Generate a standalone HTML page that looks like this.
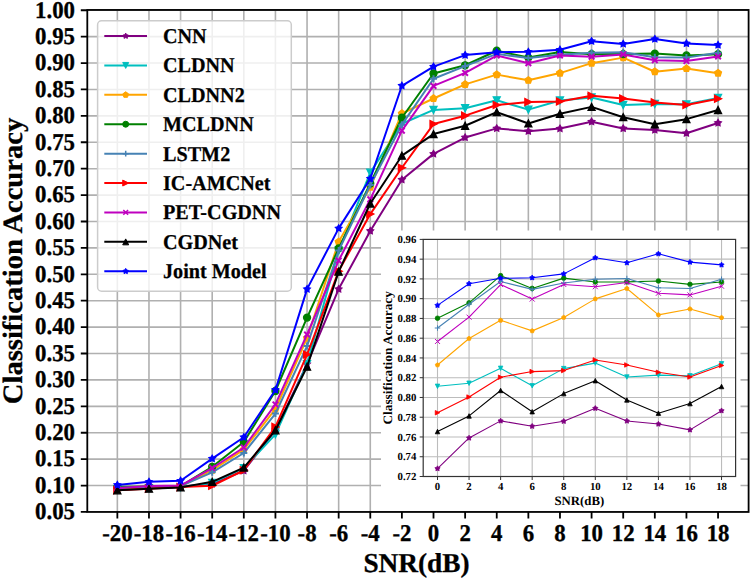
<!DOCTYPE html>
<html><head><meta charset="utf-8"><style>
html,body{margin:0;padding:0;background:#fff;width:751px;height:581px;overflow:hidden}
svg{display:block}
text{font-family:"Liberation Serif",serif;font-weight:bold;fill:#000;text-rendering:geometricPrecision}
.mt{font-size:24px;stroke:#000;stroke-width:0.35px}
.ml{font-size:28px;stroke:#000;stroke-width:0.3px}
.mx{font-size:27.3px;stroke:#000;stroke-width:0.3px}
.lg{font-size:21px;stroke:#000;stroke-width:0.25px}
.it{font-size:10.8px}
.il{font-size:12.8px}
</style></head><body>
<svg width="751" height="581" viewBox="0 0 751 581"><rect width="751" height="581" fill="#fff"/><path d="M117.35 9.95V511.95M148.97 9.95V511.95M180.58 9.95V511.95M212.20 9.95V511.95M243.81 9.95V511.95M275.43 9.95V511.95M307.05 9.95V511.95M338.66 9.95V511.95M370.28 9.95V511.95M401.89 9.95V511.95M433.51 9.95V511.95M465.13 9.95V511.95M496.74 9.95V511.95M528.36 9.95V511.95M559.97 9.95V511.95M591.59 9.95V511.95M623.21 9.95V511.95M654.82 9.95V511.95M686.44 9.95V511.95M718.05 9.95V511.95M87.30 485.54H748.60M87.30 459.13H748.60M87.30 432.73H748.60M87.30 406.33H748.60M87.30 379.92H748.60M87.30 353.51H748.60M87.30 327.11H748.60M87.30 300.71H748.60M87.30 274.30H748.60M87.30 247.89H748.60M87.30 221.49H748.60M87.30 195.08H748.60M87.30 168.68H748.60M87.30 142.27H748.60M87.30 115.87H748.60M87.30 89.46H748.60M87.30 63.06H748.60M87.30 36.65H748.60M87.30 10.25H748.60" stroke="#b0b0b0" stroke-width="1.6" fill="none"/><polyline points="117.35,489.76 148.97,488.18 180.58,486.60 212.20,483.96 243.81,470.75 275.43,430.09 307.05,364.08 338.66,289.09 370.28,231.00 401.89,179.77 433.51,153.89 465.13,137.52 496.74,128.39 528.36,131.24 559.97,128.60 591.59,121.68 623.21,128.44 654.82,130.08 686.44,133.19 718.05,122.95" stroke="#800080" stroke-width="2.0" fill="none" stroke-linejoin="round"/><polygon points="117.35,486.36 118.45,488.25 120.58,488.71 119.13,490.34 119.35,492.52 117.35,491.63 115.35,492.52 115.57,490.34 114.12,488.71 116.25,488.25" fill="#800080" stroke="#800080" stroke-width="1.3" stroke-linejoin="miter"/><polygon points="148.97,484.78 150.07,486.67 152.20,487.13 150.74,488.76 150.96,490.93 148.97,490.05 146.97,490.93 147.19,488.76 145.73,487.13 147.87,486.67" fill="#800080" stroke="#800080" stroke-width="1.3" stroke-linejoin="miter"/><polygon points="180.58,483.20 181.68,485.08 183.82,485.55 182.36,487.17 182.58,489.35 180.58,488.47 178.58,489.35 178.80,487.17 177.35,485.55 179.48,485.08" fill="#800080" stroke="#800080" stroke-width="1.3" stroke-linejoin="miter"/><polygon points="212.20,480.56 213.30,482.44 215.43,482.91 213.98,484.53 214.20,486.71 212.20,485.83 210.20,486.71 210.42,484.53 208.96,482.91 211.10,482.44" fill="#800080" stroke="#800080" stroke-width="1.3" stroke-linejoin="miter"/><polygon points="243.81,467.35 244.91,469.24 247.05,469.70 245.59,471.33 245.81,473.50 243.81,472.62 241.82,473.50 242.04,471.33 240.58,469.70 242.71,469.24" fill="#800080" stroke="#800080" stroke-width="1.3" stroke-linejoin="miter"/><polygon points="275.43,426.69 276.53,428.58 278.66,429.04 277.21,430.67 277.43,432.84 275.43,431.96 273.43,432.84 273.65,430.67 272.20,429.04 274.33,428.58" fill="#800080" stroke="#800080" stroke-width="1.3" stroke-linejoin="miter"/><polygon points="307.05,360.68 308.15,362.56 310.28,363.03 308.82,364.65 309.04,366.83 307.05,365.95 305.05,366.83 305.27,364.65 303.81,363.03 305.95,362.56" fill="#800080" stroke="#800080" stroke-width="1.3" stroke-linejoin="miter"/><polygon points="338.66,285.69 339.76,287.57 341.90,288.04 340.44,289.66 340.66,291.84 338.66,290.96 336.66,291.84 336.88,289.66 335.43,288.04 337.56,287.57" fill="#800080" stroke="#800080" stroke-width="1.3" stroke-linejoin="miter"/><polygon points="370.28,227.60 371.38,229.48 373.51,229.95 372.06,231.57 372.28,233.75 370.28,232.87 368.28,233.75 368.50,231.57 367.04,229.95 369.18,229.48" fill="#800080" stroke="#800080" stroke-width="1.3" stroke-linejoin="miter"/><polygon points="401.89,176.37 402.99,178.26 405.13,178.72 403.67,180.35 403.89,182.52 401.89,181.64 399.90,182.52 400.12,180.35 398.66,178.72 400.79,178.26" fill="#800080" stroke="#800080" stroke-width="1.3" stroke-linejoin="miter"/><polygon points="433.51,150.49 434.61,152.38 436.74,152.84 435.29,154.47 435.51,156.64 433.51,155.76 431.51,156.64 431.73,154.47 430.28,152.84 432.41,152.38" fill="#800080" stroke="#800080" stroke-width="1.3" stroke-linejoin="miter"/><polygon points="465.13,134.12 466.23,136.01 468.36,136.47 466.90,138.10 467.12,140.27 465.13,139.39 463.13,140.27 463.35,138.10 461.89,136.47 464.03,136.01" fill="#800080" stroke="#800080" stroke-width="1.3" stroke-linejoin="miter"/><polygon points="496.74,124.99 497.84,126.87 499.98,127.34 498.52,128.96 498.74,131.14 496.74,130.26 494.74,131.14 494.96,128.96 493.51,127.34 495.64,126.87" fill="#800080" stroke="#800080" stroke-width="1.3" stroke-linejoin="miter"/><polygon points="528.36,127.84 529.46,129.72 531.59,130.19 530.14,131.82 530.36,133.99 528.36,133.11 526.36,133.99 526.58,131.82 525.12,130.19 527.26,129.72" fill="#800080" stroke="#800080" stroke-width="1.3" stroke-linejoin="miter"/><polygon points="559.97,125.20 561.07,127.08 563.21,127.55 561.75,129.18 561.97,131.35 559.97,130.47 557.98,131.35 558.20,129.18 556.74,127.55 558.87,127.08" fill="#800080" stroke="#800080" stroke-width="1.3" stroke-linejoin="miter"/><polygon points="591.59,118.28 592.69,120.17 594.82,120.63 593.37,122.26 593.59,124.43 591.59,123.55 589.59,124.43 589.81,122.26 588.36,120.63 590.49,120.17" fill="#800080" stroke="#800080" stroke-width="1.3" stroke-linejoin="miter"/><polygon points="623.21,125.04 624.31,126.93 626.44,127.39 624.98,129.02 625.20,131.19 623.21,130.31 621.21,131.19 621.43,129.02 619.97,127.39 622.11,126.93" fill="#800080" stroke="#800080" stroke-width="1.3" stroke-linejoin="miter"/><polygon points="654.82,126.68 655.92,128.56 658.06,129.03 656.60,130.65 656.82,132.83 654.82,131.95 652.82,132.83 653.04,130.65 651.59,129.03 653.72,128.56" fill="#800080" stroke="#800080" stroke-width="1.3" stroke-linejoin="miter"/><polygon points="686.44,129.79 687.54,131.68 689.67,132.14 688.22,133.77 688.44,135.94 686.44,135.06 684.44,135.94 684.66,133.77 683.20,132.14 685.34,131.68" fill="#800080" stroke="#800080" stroke-width="1.3" stroke-linejoin="miter"/><polygon points="718.05,119.55 719.15,121.43 721.29,121.90 719.83,123.52 720.05,125.70 718.05,124.82 716.06,125.70 716.28,123.52 714.82,121.90 716.95,121.43" fill="#800080" stroke="#800080" stroke-width="1.3" stroke-linejoin="miter"/><polyline points="117.35,489.24 148.97,488.18 180.58,487.12 212.20,482.90 243.81,468.11 275.43,434.31 307.05,364.08 338.66,250.54 370.28,172.64 401.89,123.79 433.51,109.90 465.13,108.27 496.74,100.29 528.36,109.64 559.97,100.45 591.59,97.49 623.21,104.94 654.82,103.93 686.44,104.30 718.05,97.86" stroke="#00bfbf" stroke-width="2.0" fill="none" stroke-linejoin="round"/><polygon points="113.85,485.74 120.85,485.74 117.35,492.74" fill="#00bfbf" stroke="#00bfbf" stroke-width="1.3" stroke-linejoin="miter"/><polygon points="145.47,484.68 152.47,484.68 148.97,491.68" fill="#00bfbf" stroke="#00bfbf" stroke-width="1.3" stroke-linejoin="miter"/><polygon points="177.08,483.62 184.08,483.62 180.58,490.62" fill="#00bfbf" stroke="#00bfbf" stroke-width="1.3" stroke-linejoin="miter"/><polygon points="208.70,479.40 215.70,479.40 212.20,486.40" fill="#00bfbf" stroke="#00bfbf" stroke-width="1.3" stroke-linejoin="miter"/><polygon points="240.31,464.61 247.31,464.61 243.81,471.61" fill="#00bfbf" stroke="#00bfbf" stroke-width="1.3" stroke-linejoin="miter"/><polygon points="271.93,430.81 278.93,430.81 275.43,437.81" fill="#00bfbf" stroke="#00bfbf" stroke-width="1.3" stroke-linejoin="miter"/><polygon points="303.55,360.58 310.55,360.58 307.05,367.58" fill="#00bfbf" stroke="#00bfbf" stroke-width="1.3" stroke-linejoin="miter"/><polygon points="335.16,247.04 342.16,247.04 338.66,254.04" fill="#00bfbf" stroke="#00bfbf" stroke-width="1.3" stroke-linejoin="miter"/><polygon points="366.78,169.14 373.78,169.14 370.28,176.14" fill="#00bfbf" stroke="#00bfbf" stroke-width="1.3" stroke-linejoin="miter"/><polygon points="398.39,120.29 405.39,120.29 401.89,127.29" fill="#00bfbf" stroke="#00bfbf" stroke-width="1.3" stroke-linejoin="miter"/><polygon points="430.01,106.40 437.01,106.40 433.51,113.40" fill="#00bfbf" stroke="#00bfbf" stroke-width="1.3" stroke-linejoin="miter"/><polygon points="461.63,104.77 468.63,104.77 465.13,111.77" fill="#00bfbf" stroke="#00bfbf" stroke-width="1.3" stroke-linejoin="miter"/><polygon points="493.24,96.79 500.24,96.79 496.74,103.79" fill="#00bfbf" stroke="#00bfbf" stroke-width="1.3" stroke-linejoin="miter"/><polygon points="524.86,106.14 531.86,106.14 528.36,113.14" fill="#00bfbf" stroke="#00bfbf" stroke-width="1.3" stroke-linejoin="miter"/><polygon points="556.47,96.95 563.47,96.95 559.97,103.95" fill="#00bfbf" stroke="#00bfbf" stroke-width="1.3" stroke-linejoin="miter"/><polygon points="588.09,93.99 595.09,93.99 591.59,100.99" fill="#00bfbf" stroke="#00bfbf" stroke-width="1.3" stroke-linejoin="miter"/><polygon points="619.71,101.44 626.71,101.44 623.21,108.44" fill="#00bfbf" stroke="#00bfbf" stroke-width="1.3" stroke-linejoin="miter"/><polygon points="651.32,100.43 658.32,100.43 654.82,107.43" fill="#00bfbf" stroke="#00bfbf" stroke-width="1.3" stroke-linejoin="miter"/><polygon points="682.94,100.80 689.94,100.80 686.44,107.80" fill="#00bfbf" stroke="#00bfbf" stroke-width="1.3" stroke-linejoin="miter"/><polygon points="714.55,94.36 721.55,94.36 718.05,101.36" fill="#00bfbf" stroke="#00bfbf" stroke-width="1.3" stroke-linejoin="miter"/><polyline points="117.35,488.71 148.97,487.12 180.58,486.60 212.20,470.23 243.81,449.63 275.43,408.97 307.05,338.20 338.66,241.82 370.28,187.16 401.89,113.49 433.51,98.50 465.13,84.34 496.74,74.63 528.36,80.28 559.97,73.09 591.59,63.17 623.21,57.62 654.82,71.72 686.44,68.55 718.05,73.20" stroke="#ffa500" stroke-width="2.0" fill="none" stroke-linejoin="round"/><polygon points="117.35,485.11 120.77,487.60 119.47,491.62 115.23,491.62 113.93,487.60" fill="#ffa500" stroke="#ffa500" stroke-width="1.3" stroke-linejoin="miter"/><polygon points="148.97,483.52 152.39,486.01 151.08,490.04 146.85,490.04 145.54,486.01" fill="#ffa500" stroke="#ffa500" stroke-width="1.3" stroke-linejoin="miter"/><polygon points="180.58,483.00 184.01,485.48 182.70,489.51 178.47,489.51 177.16,485.48" fill="#ffa500" stroke="#ffa500" stroke-width="1.3" stroke-linejoin="miter"/><polygon points="212.20,466.63 215.62,469.11 214.31,473.14 210.08,473.14 208.77,469.11" fill="#ffa500" stroke="#ffa500" stroke-width="1.3" stroke-linejoin="miter"/><polygon points="243.81,446.03 247.24,448.52 245.93,452.54 241.70,452.54 240.39,448.52" fill="#ffa500" stroke="#ffa500" stroke-width="1.3" stroke-linejoin="miter"/><polygon points="275.43,405.37 278.85,407.85 277.55,411.88 273.31,411.88 272.01,407.85" fill="#ffa500" stroke="#ffa500" stroke-width="1.3" stroke-linejoin="miter"/><polygon points="307.05,334.60 310.47,337.09 309.16,341.11 304.93,341.11 303.62,337.09" fill="#ffa500" stroke="#ffa500" stroke-width="1.3" stroke-linejoin="miter"/><polygon points="338.66,238.22 342.09,240.71 340.78,244.73 336.55,244.73 335.24,240.71" fill="#ffa500" stroke="#ffa500" stroke-width="1.3" stroke-linejoin="miter"/><polygon points="370.28,183.56 373.70,186.05 372.39,190.08 368.16,190.08 366.85,186.05" fill="#ffa500" stroke="#ffa500" stroke-width="1.3" stroke-linejoin="miter"/><polygon points="401.89,109.89 405.32,112.38 404.01,116.41 399.78,116.41 398.47,112.38" fill="#ffa500" stroke="#ffa500" stroke-width="1.3" stroke-linejoin="miter"/><polygon points="433.51,94.90 436.93,97.38 435.63,101.41 431.39,101.41 430.09,97.38" fill="#ffa500" stroke="#ffa500" stroke-width="1.3" stroke-linejoin="miter"/><polygon points="465.13,80.74 468.55,83.23 467.24,87.25 463.01,87.25 461.70,83.23" fill="#ffa500" stroke="#ffa500" stroke-width="1.3" stroke-linejoin="miter"/><polygon points="496.74,71.03 500.17,73.51 498.86,77.54 494.63,77.54 493.32,73.51" fill="#ffa500" stroke="#ffa500" stroke-width="1.3" stroke-linejoin="miter"/><polygon points="528.36,76.68 531.78,79.16 530.47,83.19 526.24,83.19 524.93,79.16" fill="#ffa500" stroke="#ffa500" stroke-width="1.3" stroke-linejoin="miter"/><polygon points="559.97,69.49 563.40,71.98 562.09,76.01 557.86,76.01 556.55,71.98" fill="#ffa500" stroke="#ffa500" stroke-width="1.3" stroke-linejoin="miter"/><polygon points="591.59,59.57 595.01,62.05 593.71,66.08 589.47,66.08 588.17,62.05" fill="#ffa500" stroke="#ffa500" stroke-width="1.3" stroke-linejoin="miter"/><polygon points="623.21,54.02 626.63,56.51 625.32,60.53 621.09,60.53 619.78,56.51" fill="#ffa500" stroke="#ffa500" stroke-width="1.3" stroke-linejoin="miter"/><polygon points="654.82,68.12 658.25,70.61 656.94,74.63 652.71,74.63 651.40,70.61" fill="#ffa500" stroke="#ffa500" stroke-width="1.3" stroke-linejoin="miter"/><polygon points="686.44,64.95 689.86,67.44 688.55,71.46 684.32,71.46 683.01,67.44" fill="#ffa500" stroke="#ffa500" stroke-width="1.3" stroke-linejoin="miter"/><polygon points="718.05,69.60 721.48,72.09 720.17,76.11 715.94,76.11 714.63,72.09" fill="#ffa500" stroke="#ffa500" stroke-width="1.3" stroke-linejoin="miter"/><polyline points="117.35,487.12 148.97,486.60 180.58,486.07 212.20,466.79 243.81,441.97 275.43,391.01 307.05,317.60 338.66,248.42 370.28,183.47 401.89,117.77 433.51,73.52 465.13,65.28 496.74,50.76 528.36,57.57 559.97,52.08 591.59,54.14 623.21,54.08 654.82,53.61 686.44,55.40 718.05,54.14" stroke="#008000" stroke-width="2.0" fill="none" stroke-linejoin="round"/><circle cx="117.35" cy="487.12" r="3.50" fill="#008000" stroke="#008000" stroke-width="1.3" stroke-linejoin="miter"/><circle cx="148.97" cy="486.60" r="3.50" fill="#008000" stroke="#008000" stroke-width="1.3" stroke-linejoin="miter"/><circle cx="180.58" cy="486.07" r="3.50" fill="#008000" stroke="#008000" stroke-width="1.3" stroke-linejoin="miter"/><circle cx="212.20" cy="466.79" r="3.50" fill="#008000" stroke="#008000" stroke-width="1.3" stroke-linejoin="miter"/><circle cx="243.81" cy="441.97" r="3.50" fill="#008000" stroke="#008000" stroke-width="1.3" stroke-linejoin="miter"/><circle cx="275.43" cy="391.01" r="3.50" fill="#008000" stroke="#008000" stroke-width="1.3" stroke-linejoin="miter"/><circle cx="307.05" cy="317.60" r="3.50" fill="#008000" stroke="#008000" stroke-width="1.3" stroke-linejoin="miter"/><circle cx="338.66" cy="248.42" r="3.50" fill="#008000" stroke="#008000" stroke-width="1.3" stroke-linejoin="miter"/><circle cx="370.28" cy="183.47" r="3.50" fill="#008000" stroke="#008000" stroke-width="1.3" stroke-linejoin="miter"/><circle cx="401.89" cy="117.77" r="3.50" fill="#008000" stroke="#008000" stroke-width="1.3" stroke-linejoin="miter"/><circle cx="433.51" cy="73.52" r="3.50" fill="#008000" stroke="#008000" stroke-width="1.3" stroke-linejoin="miter"/><circle cx="465.13" cy="65.28" r="3.50" fill="#008000" stroke="#008000" stroke-width="1.3" stroke-linejoin="miter"/><circle cx="496.74" cy="50.76" r="3.50" fill="#008000" stroke="#008000" stroke-width="1.3" stroke-linejoin="miter"/><circle cx="528.36" cy="57.57" r="3.50" fill="#008000" stroke="#008000" stroke-width="1.3" stroke-linejoin="miter"/><circle cx="559.97" cy="52.08" r="3.50" fill="#008000" stroke="#008000" stroke-width="1.3" stroke-linejoin="miter"/><circle cx="591.59" cy="54.14" r="3.50" fill="#008000" stroke="#008000" stroke-width="1.3" stroke-linejoin="miter"/><circle cx="623.21" cy="54.08" r="3.50" fill="#008000" stroke="#008000" stroke-width="1.3" stroke-linejoin="miter"/><circle cx="654.82" cy="53.61" r="3.50" fill="#008000" stroke="#008000" stroke-width="1.3" stroke-linejoin="miter"/><circle cx="686.44" cy="55.40" r="3.50" fill="#008000" stroke="#008000" stroke-width="1.3" stroke-linejoin="miter"/><circle cx="718.05" cy="54.14" r="3.50" fill="#008000" stroke="#008000" stroke-width="1.3" stroke-linejoin="miter"/><polyline points="117.35,487.65 148.97,487.12 180.58,486.07 212.20,472.34 243.81,453.01 275.43,413.51 307.05,346.12 338.66,250.54 370.28,185.05 401.89,124.69 433.51,78.74 465.13,66.07 496.74,53.87 528.36,58.10 559.97,54.72 591.59,52.66 623.21,52.29 654.82,57.25 686.44,57.62 718.05,52.66" stroke="#4682b4" stroke-width="2.0" fill="none" stroke-linejoin="round"/><path d="M113.85 487.65H120.85M117.35 484.15V491.15" stroke="#4682b4" stroke-width="2.0" fill="none"/><path d="M145.47 487.12H152.47M148.97 483.62V490.62" stroke="#4682b4" stroke-width="2.0" fill="none"/><path d="M177.08 486.07H184.08M180.58 482.57V489.57" stroke="#4682b4" stroke-width="2.0" fill="none"/><path d="M208.70 472.34H215.70M212.20 468.84V475.84" stroke="#4682b4" stroke-width="2.0" fill="none"/><path d="M240.31 453.01H247.31M243.81 449.51V456.51" stroke="#4682b4" stroke-width="2.0" fill="none"/><path d="M271.93 413.51H278.93M275.43 410.01V417.01" stroke="#4682b4" stroke-width="2.0" fill="none"/><path d="M303.55 346.12H310.55M307.05 342.62V349.62" stroke="#4682b4" stroke-width="2.0" fill="none"/><path d="M335.16 250.54H342.16M338.66 247.04V254.04" stroke="#4682b4" stroke-width="2.0" fill="none"/><path d="M366.78 185.05H373.78M370.28 181.55V188.55" stroke="#4682b4" stroke-width="2.0" fill="none"/><path d="M398.39 124.69H405.39M401.89 121.19V128.19" stroke="#4682b4" stroke-width="2.0" fill="none"/><path d="M430.01 78.74H437.01M433.51 75.24V82.24" stroke="#4682b4" stroke-width="2.0" fill="none"/><path d="M461.63 66.07H468.63M465.13 62.57V69.57" stroke="#4682b4" stroke-width="2.0" fill="none"/><path d="M493.24 53.87H500.24M496.74 50.37V57.37" stroke="#4682b4" stroke-width="2.0" fill="none"/><path d="M524.86 58.10H531.86M528.36 54.60V61.60" stroke="#4682b4" stroke-width="2.0" fill="none"/><path d="M556.47 54.72H563.47M559.97 51.22V58.22" stroke="#4682b4" stroke-width="2.0" fill="none"/><path d="M588.09 52.66H595.09M591.59 49.16V56.16" stroke="#4682b4" stroke-width="2.0" fill="none"/><path d="M619.71 52.29H626.71M623.21 48.79V55.79" stroke="#4682b4" stroke-width="2.0" fill="none"/><path d="M651.32 57.25H658.32M654.82 53.75V60.75" stroke="#4682b4" stroke-width="2.0" fill="none"/><path d="M682.94 57.62H689.94M686.44 54.12V61.12" stroke="#4682b4" stroke-width="2.0" fill="none"/><path d="M714.55 52.66H721.55M718.05 49.16V56.16" stroke="#4682b4" stroke-width="2.0" fill="none"/><polyline points="117.35,490.29 148.97,488.71 180.58,487.12 212.20,485.75 243.81,470.23 275.43,426.92 307.05,354.57 338.66,271.13 370.28,214.10 401.89,167.78 433.51,124.06 465.13,115.66 496.74,105.04 528.36,102.03 559.97,101.51 591.59,95.80 623.21,98.50 654.82,102.40 686.44,104.94 718.05,98.76" stroke="#ff0000" stroke-width="2.0" fill="none" stroke-linejoin="round"/><polygon points="113.85,486.79 113.85,493.79 120.85,490.29" fill="#ff0000" stroke="#ff0000" stroke-width="1.3" stroke-linejoin="miter"/><polygon points="145.47,485.21 145.47,492.21 152.47,488.71" fill="#ff0000" stroke="#ff0000" stroke-width="1.3" stroke-linejoin="miter"/><polygon points="177.08,483.62 177.08,490.62 184.08,487.12" fill="#ff0000" stroke="#ff0000" stroke-width="1.3" stroke-linejoin="miter"/><polygon points="208.70,482.25 208.70,489.25 215.70,485.75" fill="#ff0000" stroke="#ff0000" stroke-width="1.3" stroke-linejoin="miter"/><polygon points="240.31,466.73 240.31,473.73 247.31,470.23" fill="#ff0000" stroke="#ff0000" stroke-width="1.3" stroke-linejoin="miter"/><polygon points="271.93,423.42 271.93,430.42 278.93,426.92" fill="#ff0000" stroke="#ff0000" stroke-width="1.3" stroke-linejoin="miter"/><polygon points="303.55,351.07 303.55,358.07 310.55,354.57" fill="#ff0000" stroke="#ff0000" stroke-width="1.3" stroke-linejoin="miter"/><polygon points="335.16,267.63 335.16,274.63 342.16,271.13" fill="#ff0000" stroke="#ff0000" stroke-width="1.3" stroke-linejoin="miter"/><polygon points="366.78,210.60 366.78,217.60 373.78,214.10" fill="#ff0000" stroke="#ff0000" stroke-width="1.3" stroke-linejoin="miter"/><polygon points="398.39,164.28 398.39,171.28 405.39,167.78" fill="#ff0000" stroke="#ff0000" stroke-width="1.3" stroke-linejoin="miter"/><polygon points="430.01,120.56 430.01,127.56 437.01,124.06" fill="#ff0000" stroke="#ff0000" stroke-width="1.3" stroke-linejoin="miter"/><polygon points="461.63,112.16 461.63,119.16 468.63,115.66" fill="#ff0000" stroke="#ff0000" stroke-width="1.3" stroke-linejoin="miter"/><polygon points="493.24,101.54 493.24,108.54 500.24,105.04" fill="#ff0000" stroke="#ff0000" stroke-width="1.3" stroke-linejoin="miter"/><polygon points="524.86,98.53 524.86,105.53 531.86,102.03" fill="#ff0000" stroke="#ff0000" stroke-width="1.3" stroke-linejoin="miter"/><polygon points="556.47,98.01 556.47,105.01 563.47,101.51" fill="#ff0000" stroke="#ff0000" stroke-width="1.3" stroke-linejoin="miter"/><polygon points="588.09,92.30 588.09,99.30 595.09,95.80" fill="#ff0000" stroke="#ff0000" stroke-width="1.3" stroke-linejoin="miter"/><polygon points="619.71,95.00 619.71,102.00 626.71,98.50" fill="#ff0000" stroke="#ff0000" stroke-width="1.3" stroke-linejoin="miter"/><polygon points="651.32,98.90 651.32,105.90 658.32,102.40" fill="#ff0000" stroke="#ff0000" stroke-width="1.3" stroke-linejoin="miter"/><polygon points="682.94,101.44 682.94,108.44 689.94,104.94" fill="#ff0000" stroke="#ff0000" stroke-width="1.3" stroke-linejoin="miter"/><polygon points="714.55,95.26 714.55,102.26 721.55,98.76" fill="#ff0000" stroke="#ff0000" stroke-width="1.3" stroke-linejoin="miter"/><polyline points="117.35,488.18 148.97,486.07 180.58,485.54 212.20,468.11 243.81,447.52 275.43,404.42 307.05,334.50 338.66,260.57 370.28,199.31 401.89,130.66 433.51,85.93 465.13,72.94 496.74,55.51 528.36,63.27 559.97,55.46 591.59,56.67 623.21,54.40 654.82,60.16 686.44,61.05 718.05,56.41" stroke="#bf00bf" stroke-width="2.0" fill="none" stroke-linejoin="round"/><path d="M114.55 485.38L120.15 490.98M114.55 490.98L120.15 485.38" stroke="#bf00bf" stroke-width="2.0" fill="none"/><path d="M146.17 483.27L151.77 488.87M146.17 488.87L151.77 483.27" stroke="#bf00bf" stroke-width="2.0" fill="none"/><path d="M177.78 482.74L183.38 488.34M177.78 488.34L183.38 482.74" stroke="#bf00bf" stroke-width="2.0" fill="none"/><path d="M209.40 465.31L215.00 470.91M209.40 470.91L215.00 465.31" stroke="#bf00bf" stroke-width="2.0" fill="none"/><path d="M241.01 444.72L246.61 450.32M241.01 450.32L246.61 444.72" stroke="#bf00bf" stroke-width="2.0" fill="none"/><path d="M272.63 401.62L278.23 407.22M272.63 407.22L278.23 401.62" stroke="#bf00bf" stroke-width="2.0" fill="none"/><path d="M304.25 331.70L309.85 337.30M304.25 337.30L309.85 331.70" stroke="#bf00bf" stroke-width="2.0" fill="none"/><path d="M335.86 257.77L341.46 263.37M335.86 263.37L341.46 257.77" stroke="#bf00bf" stroke-width="2.0" fill="none"/><path d="M367.48 196.51L373.08 202.11M367.48 202.11L373.08 196.51" stroke="#bf00bf" stroke-width="2.0" fill="none"/><path d="M399.09 127.86L404.69 133.46M399.09 133.46L404.69 127.86" stroke="#bf00bf" stroke-width="2.0" fill="none"/><path d="M430.71 83.13L436.31 88.73M430.71 88.73L436.31 83.13" stroke="#bf00bf" stroke-width="2.0" fill="none"/><path d="M462.33 70.14L467.93 75.74M462.33 75.74L467.93 70.14" stroke="#bf00bf" stroke-width="2.0" fill="none"/><path d="M493.94 52.71L499.54 58.31M493.94 58.31L499.54 52.71" stroke="#bf00bf" stroke-width="2.0" fill="none"/><path d="M525.56 60.47L531.16 66.07M525.56 66.07L531.16 60.47" stroke="#bf00bf" stroke-width="2.0" fill="none"/><path d="M557.17 52.66L562.77 58.26M557.17 58.26L562.77 52.66" stroke="#bf00bf" stroke-width="2.0" fill="none"/><path d="M588.79 53.87L594.39 59.47M588.79 59.47L594.39 53.87" stroke="#bf00bf" stroke-width="2.0" fill="none"/><path d="M620.41 51.60L626.01 57.20M620.41 57.20L626.01 51.60" stroke="#bf00bf" stroke-width="2.0" fill="none"/><path d="M652.02 57.36L657.62 62.96M652.02 62.96L657.62 57.36" stroke="#bf00bf" stroke-width="2.0" fill="none"/><path d="M683.64 58.25L689.24 63.85M683.64 63.85L689.24 58.25" stroke="#bf00bf" stroke-width="2.0" fill="none"/><path d="M715.25 53.61L720.85 59.21M715.25 59.21L720.85 53.61" stroke="#bf00bf" stroke-width="2.0" fill="none"/><polyline points="117.35,490.29 148.97,488.71 180.58,487.39 212.20,481.84 243.81,467.58 275.43,430.30 307.05,366.72 338.66,271.66 370.28,203.53 401.89,155.69 433.51,134.09 465.13,125.75 496.74,112.12 528.36,123.47 559.97,113.81 591.59,106.89 623.21,117.19 654.82,124.27 686.44,119.14 718.05,110.01" stroke="#000000" stroke-width="2.0" fill="none" stroke-linejoin="round"/><polygon points="113.85,493.79 120.85,493.79 117.35,486.79" fill="#000000" stroke="#000000" stroke-width="1.3" stroke-linejoin="miter"/><polygon points="145.47,492.21 152.47,492.21 148.97,485.21" fill="#000000" stroke="#000000" stroke-width="1.3" stroke-linejoin="miter"/><polygon points="177.08,490.89 184.08,490.89 180.58,483.89" fill="#000000" stroke="#000000" stroke-width="1.3" stroke-linejoin="miter"/><polygon points="208.70,485.34 215.70,485.34 212.20,478.34" fill="#000000" stroke="#000000" stroke-width="1.3" stroke-linejoin="miter"/><polygon points="240.31,471.08 247.31,471.08 243.81,464.08" fill="#000000" stroke="#000000" stroke-width="1.3" stroke-linejoin="miter"/><polygon points="271.93,433.80 278.93,433.80 275.43,426.80" fill="#000000" stroke="#000000" stroke-width="1.3" stroke-linejoin="miter"/><polygon points="303.55,370.22 310.55,370.22 307.05,363.22" fill="#000000" stroke="#000000" stroke-width="1.3" stroke-linejoin="miter"/><polygon points="335.16,275.16 342.16,275.16 338.66,268.16" fill="#000000" stroke="#000000" stroke-width="1.3" stroke-linejoin="miter"/><polygon points="366.78,207.03 373.78,207.03 370.28,200.03" fill="#000000" stroke="#000000" stroke-width="1.3" stroke-linejoin="miter"/><polygon points="398.39,159.19 405.39,159.19 401.89,152.19" fill="#000000" stroke="#000000" stroke-width="1.3" stroke-linejoin="miter"/><polygon points="430.01,137.59 437.01,137.59 433.51,130.59" fill="#000000" stroke="#000000" stroke-width="1.3" stroke-linejoin="miter"/><polygon points="461.63,129.25 468.63,129.25 465.13,122.25" fill="#000000" stroke="#000000" stroke-width="1.3" stroke-linejoin="miter"/><polygon points="493.24,115.62 500.24,115.62 496.74,108.62" fill="#000000" stroke="#000000" stroke-width="1.3" stroke-linejoin="miter"/><polygon points="524.86,126.97 531.86,126.97 528.36,119.97" fill="#000000" stroke="#000000" stroke-width="1.3" stroke-linejoin="miter"/><polygon points="556.47,117.31 563.47,117.31 559.97,110.31" fill="#000000" stroke="#000000" stroke-width="1.3" stroke-linejoin="miter"/><polygon points="588.09,110.39 595.09,110.39 591.59,103.39" fill="#000000" stroke="#000000" stroke-width="1.3" stroke-linejoin="miter"/><polygon points="619.71,120.69 626.71,120.69 623.21,113.69" fill="#000000" stroke="#000000" stroke-width="1.3" stroke-linejoin="miter"/><polygon points="651.32,127.77 658.32,127.77 654.82,120.77" fill="#000000" stroke="#000000" stroke-width="1.3" stroke-linejoin="miter"/><polygon points="682.94,122.64 689.94,122.64 686.44,115.64" fill="#000000" stroke="#000000" stroke-width="1.3" stroke-linejoin="miter"/><polygon points="714.55,113.51 721.55,113.51 718.05,106.51" fill="#000000" stroke="#000000" stroke-width="1.3" stroke-linejoin="miter"/><polyline points="117.35,485.01 148.97,481.84 180.58,480.79 212.20,458.61 243.81,437.22 275.43,389.95 307.05,289.09 338.66,228.36 370.28,178.71 401.89,85.77 433.51,66.65 465.13,55.09 496.74,52.18 528.36,51.86 559.97,49.80 591.59,41.20 623.21,43.89 654.82,39.08 686.44,43.52 718.05,45.00" stroke="#0000ff" stroke-width="2.0" fill="none" stroke-linejoin="round"/><polygon points="117.35,481.61 118.45,483.50 120.58,483.96 119.13,485.59 119.35,487.76 117.35,486.88 115.35,487.76 115.57,485.59 114.12,483.96 116.25,483.50" fill="#0000ff" stroke="#0000ff" stroke-width="1.3" stroke-linejoin="miter"/><polygon points="148.97,478.44 150.07,480.33 152.20,480.79 150.74,482.42 150.96,484.59 148.97,483.71 146.97,484.59 147.19,482.42 145.73,480.79 147.87,480.33" fill="#0000ff" stroke="#0000ff" stroke-width="1.3" stroke-linejoin="miter"/><polygon points="180.58,477.39 181.68,479.27 183.82,479.74 182.36,481.36 182.58,483.54 180.58,482.66 178.58,483.54 178.80,481.36 177.35,479.74 179.48,479.27" fill="#0000ff" stroke="#0000ff" stroke-width="1.3" stroke-linejoin="miter"/><polygon points="212.20,455.21 213.30,457.09 215.43,457.56 213.98,459.18 214.20,461.36 212.20,460.48 210.20,461.36 210.42,459.18 208.96,457.56 211.10,457.09" fill="#0000ff" stroke="#0000ff" stroke-width="1.3" stroke-linejoin="miter"/><polygon points="243.81,433.82 244.91,435.71 247.05,436.17 245.59,437.80 245.81,439.97 243.81,439.09 241.82,439.97 242.04,437.80 240.58,436.17 242.71,435.71" fill="#0000ff" stroke="#0000ff" stroke-width="1.3" stroke-linejoin="miter"/><polygon points="275.43,386.55 276.53,388.44 278.66,388.90 277.21,390.53 277.43,392.70 275.43,391.82 273.43,392.70 273.65,390.53 272.20,388.90 274.33,388.44" fill="#0000ff" stroke="#0000ff" stroke-width="1.3" stroke-linejoin="miter"/><polygon points="307.05,285.69 308.15,287.57 310.28,288.04 308.82,289.66 309.04,291.84 307.05,290.96 305.05,291.84 305.27,289.66 303.81,288.04 305.95,287.57" fill="#0000ff" stroke="#0000ff" stroke-width="1.3" stroke-linejoin="miter"/><polygon points="338.66,224.96 339.76,226.84 341.90,227.30 340.44,228.93 340.66,231.11 338.66,230.23 336.66,231.11 336.88,228.93 335.43,227.30 337.56,226.84" fill="#0000ff" stroke="#0000ff" stroke-width="1.3" stroke-linejoin="miter"/><polygon points="370.28,175.31 371.38,177.20 373.51,177.66 372.06,179.29 372.28,181.46 370.28,180.58 368.28,181.46 368.50,179.29 367.04,177.66 369.18,177.20" fill="#0000ff" stroke="#0000ff" stroke-width="1.3" stroke-linejoin="miter"/><polygon points="401.89,82.37 402.99,84.26 405.13,84.72 403.67,86.35 403.89,88.52 401.89,87.64 399.90,88.52 400.12,86.35 398.66,84.72 400.79,84.26" fill="#0000ff" stroke="#0000ff" stroke-width="1.3" stroke-linejoin="miter"/><polygon points="433.51,63.25 434.61,65.14 436.74,65.60 435.29,67.23 435.51,69.40 433.51,68.52 431.51,69.40 431.73,67.23 430.28,65.60 432.41,65.14" fill="#0000ff" stroke="#0000ff" stroke-width="1.3" stroke-linejoin="miter"/><polygon points="465.13,51.69 466.23,53.57 468.36,54.04 466.90,55.66 467.12,57.84 465.13,56.96 463.13,57.84 463.35,55.66 461.89,54.04 464.03,53.57" fill="#0000ff" stroke="#0000ff" stroke-width="1.3" stroke-linejoin="miter"/><polygon points="496.74,48.78 497.84,50.67 499.98,51.13 498.52,52.76 498.74,54.93 496.74,54.05 494.74,54.93 494.96,52.76 493.51,51.13 495.64,50.67" fill="#0000ff" stroke="#0000ff" stroke-width="1.3" stroke-linejoin="miter"/><polygon points="528.36,48.46 529.46,50.35 531.59,50.81 530.14,52.44 530.36,54.61 528.36,53.73 526.36,54.61 526.58,52.44 525.12,50.81 527.26,50.35" fill="#0000ff" stroke="#0000ff" stroke-width="1.3" stroke-linejoin="miter"/><polygon points="559.97,46.40 561.07,48.29 563.21,48.75 561.75,50.38 561.97,52.56 559.97,51.67 557.98,52.56 558.20,50.38 556.74,48.75 558.87,48.29" fill="#0000ff" stroke="#0000ff" stroke-width="1.3" stroke-linejoin="miter"/><polygon points="591.59,37.80 592.69,39.68 594.82,40.15 593.37,41.77 593.59,43.95 591.59,43.07 589.59,43.95 589.81,41.77 588.36,40.15 590.49,39.68" fill="#0000ff" stroke="#0000ff" stroke-width="1.3" stroke-linejoin="miter"/><polygon points="623.21,40.49 624.31,42.38 626.44,42.84 624.98,44.47 625.20,46.64 623.21,45.76 621.21,46.64 621.43,44.47 619.97,42.84 622.11,42.38" fill="#0000ff" stroke="#0000ff" stroke-width="1.3" stroke-linejoin="miter"/><polygon points="654.82,35.68 655.92,37.57 658.06,38.03 656.60,39.66 656.82,41.83 654.82,40.95 652.82,41.83 653.04,39.66 651.59,38.03 653.72,37.57" fill="#0000ff" stroke="#0000ff" stroke-width="1.3" stroke-linejoin="miter"/><polygon points="686.44,40.12 687.54,42.01 689.67,42.47 688.22,44.10 688.44,46.27 686.44,45.39 684.44,46.27 684.66,44.10 683.20,42.47 685.34,42.01" fill="#0000ff" stroke="#0000ff" stroke-width="1.3" stroke-linejoin="miter"/><polygon points="718.05,41.60 719.15,43.49 721.29,43.95 719.83,45.58 720.05,47.75 718.05,46.87 716.06,47.75 716.28,45.58 714.82,43.95 716.95,43.49" fill="#0000ff" stroke="#0000ff" stroke-width="1.3" stroke-linejoin="miter"/><rect x="97.6" y="20.8" width="193.70000000000002" height="270.4" rx="4" ry="4" fill="#fff" fill-opacity="0.8" stroke="#cccccc" stroke-width="1.5"/><path d="M104.3 36.00H147" stroke="#800080" stroke-width="2" fill="none"/><polygon points="125.70,33.11 126.63,34.71 128.45,35.11 127.21,36.49 127.40,38.34 125.70,37.59 124.00,38.34 124.19,36.49 122.95,35.11 124.77,34.71" fill="#800080" stroke="#800080" stroke-width="1.0" stroke-linejoin="miter"/><text transform="translate(163,43.00) scale(0.96,1)" class="lg">CNN</text><path d="M104.3 65.41H147" stroke="#00bfbf" stroke-width="2" fill="none"/><polygon points="122.73,62.43 128.68,62.43 125.70,68.38" fill="#00bfbf" stroke="#00bfbf" stroke-width="1.0" stroke-linejoin="miter"/><text transform="translate(163,72.41) scale(0.96,1)" class="lg">CLDNN</text><path d="M104.3 94.82H147" stroke="#ffa500" stroke-width="2" fill="none"/><polygon points="125.70,91.76 128.61,93.87 127.50,97.30 123.90,97.30 122.79,93.87" fill="#ffa500" stroke="#ffa500" stroke-width="1.0" stroke-linejoin="miter"/><text transform="translate(163,101.82) scale(0.96,1)" class="lg">CLDNN2</text><path d="M104.3 124.23H147" stroke="#008000" stroke-width="2" fill="none"/><circle cx="125.70" cy="124.23" r="2.98" fill="#008000" stroke="#008000" stroke-width="1.0" stroke-linejoin="miter"/><text transform="translate(163,131.23) scale(0.96,1)" class="lg">MCLDNN</text><path d="M104.3 153.64H147" stroke="#4682b4" stroke-width="2" fill="none"/><path d="M122.73 153.64H128.68M125.70 150.66V156.61" stroke="#4682b4" stroke-width="1.5" fill="none"/><text transform="translate(163,160.64) scale(0.96,1)" class="lg">LSTM2</text><path d="M104.3 183.05H147" stroke="#ff0000" stroke-width="2" fill="none"/><polygon points="122.73,180.08 122.73,186.03 128.68,183.05" fill="#ff0000" stroke="#ff0000" stroke-width="1.0" stroke-linejoin="miter"/><text transform="translate(163,190.05) scale(0.96,1)" class="lg">IC-AMCNet</text><path d="M104.3 212.46H147" stroke="#bf00bf" stroke-width="2" fill="none"/><path d="M123.32 210.08L128.08 214.84M123.32 214.84L128.08 210.08" stroke="#bf00bf" stroke-width="1.5" fill="none"/><text transform="translate(163,219.46) scale(0.96,1)" class="lg">PET-CGDNN</text><path d="M104.3 241.87H147" stroke="#000000" stroke-width="2" fill="none"/><polygon points="122.73,244.84 128.68,244.84 125.70,238.90" fill="#000000" stroke="#000000" stroke-width="1.0" stroke-linejoin="miter"/><text transform="translate(163,248.87) scale(0.96,1)" class="lg">CGDNet</text><path d="M104.3 271.28H147" stroke="#0000ff" stroke-width="2" fill="none"/><polygon points="125.70,268.39 126.63,269.99 128.45,270.39 127.21,271.77 127.40,273.62 125.70,272.87 124.00,273.62 124.19,271.77 122.95,270.39 124.77,269.99" fill="#0000ff" stroke="#0000ff" stroke-width="1.0" stroke-linejoin="miter"/><text transform="translate(163,278.28) scale(0.96,1)" class="lg">Joint Model</text><rect x="381" y="230.5" width="359.5" height="281.5" fill="#fff"/><path d="M437.50 239.40V476.50M469.06 239.40V476.50M500.62 239.40V476.50M532.18 239.40V476.50M563.74 239.40V476.50M595.30 239.40V476.50M626.86 239.40V476.50M658.42 239.40V476.50M689.98 239.40V476.50M721.54 239.40V476.50M423.20 456.74H735.60M423.20 436.98H735.60M423.20 417.22H735.60M423.20 397.46H735.60M423.20 377.71H735.60M423.20 357.95H735.60M423.20 338.19H735.60M423.20 318.43H735.60M423.20 298.67H735.60M423.20 278.92H735.60M423.20 259.16H735.60" stroke="#bcbcbc" stroke-width="1.1" fill="none"/><polyline points="437.50,468.59 469.06,437.97 500.62,420.88 532.18,426.21 563.74,421.27 595.30,408.33 626.86,420.98 658.42,424.04 689.98,429.87 721.54,410.70" stroke="#800080" stroke-width="1.1" fill="none" stroke-linejoin="round"/><polygon points="437.50,465.84 438.39,467.37 440.12,467.74 438.94,469.06 439.12,470.82 437.50,470.11 435.88,470.82 436.06,469.06 434.88,467.74 436.61,467.37" fill="#800080" stroke="#800080" stroke-width="0.8" stroke-linejoin="miter"/><polygon points="469.06,435.22 469.95,436.74 471.68,437.12 470.50,438.44 470.68,440.19 469.06,439.48 467.44,440.19 467.62,438.44 466.44,437.12 468.17,436.74" fill="#800080" stroke="#800080" stroke-width="0.8" stroke-linejoin="miter"/><polygon points="500.62,418.13 501.51,419.65 503.24,420.03 502.06,421.34 502.24,423.10 500.62,422.39 499.00,423.10 499.18,421.34 498.00,420.03 499.73,419.65" fill="#800080" stroke="#800080" stroke-width="0.8" stroke-linejoin="miter"/><polygon points="532.18,423.46 533.07,424.99 534.80,425.36 533.62,426.68 533.80,428.44 532.18,427.72 530.56,428.44 530.74,426.68 529.56,425.36 531.29,424.99" fill="#800080" stroke="#800080" stroke-width="0.8" stroke-linejoin="miter"/><polygon points="563.74,418.52 564.63,420.05 566.36,420.42 565.18,421.74 565.36,423.50 563.74,422.78 562.12,423.50 562.30,421.74 561.12,420.42 562.85,420.05" fill="#800080" stroke="#800080" stroke-width="0.8" stroke-linejoin="miter"/><polygon points="595.30,405.58 596.19,407.11 597.92,407.48 596.74,408.80 596.92,410.56 595.30,409.84 593.68,410.56 593.86,408.80 592.68,407.48 594.41,407.11" fill="#800080" stroke="#800080" stroke-width="0.8" stroke-linejoin="miter"/><polygon points="626.86,418.23 627.75,419.75 629.48,420.13 628.30,421.44 628.48,423.20 626.86,422.49 625.24,423.20 625.42,421.44 624.24,420.13 625.97,419.75" fill="#800080" stroke="#800080" stroke-width="0.8" stroke-linejoin="miter"/><polygon points="658.42,421.29 659.31,422.81 661.04,423.19 659.86,424.51 660.04,426.26 658.42,425.55 656.80,426.26 656.98,424.51 655.80,423.19 657.53,422.81" fill="#800080" stroke="#800080" stroke-width="0.8" stroke-linejoin="miter"/><polygon points="689.98,427.12 690.87,428.64 692.60,429.02 691.42,430.33 691.60,432.09 689.98,431.38 688.36,432.09 688.54,430.33 687.36,429.02 689.09,428.64" fill="#800080" stroke="#800080" stroke-width="0.8" stroke-linejoin="miter"/><polygon points="721.54,407.95 722.43,409.48 724.16,409.85 722.98,411.17 723.16,412.93 721.54,412.21 719.92,412.93 720.10,411.17 718.92,409.85 720.65,409.48" fill="#800080" stroke="#800080" stroke-width="0.8" stroke-linejoin="miter"/><polyline points="437.50,386.30 469.06,383.24 500.62,368.32 532.18,385.81 563.74,368.62 595.30,363.09 626.86,377.01 658.42,375.14 689.98,375.83 721.54,363.78" stroke="#00bfbf" stroke-width="1.1" fill="none" stroke-linejoin="round"/><polygon points="435.25,384.05 439.75,384.05 437.50,388.55" fill="#00bfbf" stroke="#00bfbf" stroke-width="0.8" stroke-linejoin="miter"/><polygon points="466.81,380.99 471.31,380.99 469.06,385.49" fill="#00bfbf" stroke="#00bfbf" stroke-width="0.8" stroke-linejoin="miter"/><polygon points="498.37,366.07 502.87,366.07 500.62,370.57" fill="#00bfbf" stroke="#00bfbf" stroke-width="0.8" stroke-linejoin="miter"/><polygon points="529.93,383.56 534.43,383.56 532.18,388.06" fill="#00bfbf" stroke="#00bfbf" stroke-width="0.8" stroke-linejoin="miter"/><polygon points="561.49,366.37 565.99,366.37 563.74,370.87" fill="#00bfbf" stroke="#00bfbf" stroke-width="0.8" stroke-linejoin="miter"/><polygon points="593.05,360.84 597.55,360.84 595.30,365.34" fill="#00bfbf" stroke="#00bfbf" stroke-width="0.8" stroke-linejoin="miter"/><polygon points="624.61,374.76 629.11,374.76 626.86,379.26" fill="#00bfbf" stroke="#00bfbf" stroke-width="0.8" stroke-linejoin="miter"/><polygon points="656.17,372.89 660.67,372.89 658.42,377.39" fill="#00bfbf" stroke="#00bfbf" stroke-width="0.8" stroke-linejoin="miter"/><polygon points="687.73,373.58 692.23,373.58 689.98,378.08" fill="#00bfbf" stroke="#00bfbf" stroke-width="0.8" stroke-linejoin="miter"/><polygon points="719.29,361.53 723.79,361.53 721.54,366.03" fill="#00bfbf" stroke="#00bfbf" stroke-width="0.8" stroke-linejoin="miter"/><polyline points="437.50,364.96 469.06,338.49 500.62,320.31 532.18,330.88 563.74,317.44 595.30,298.87 626.86,288.50 658.42,314.88 689.98,308.95 721.54,317.64" stroke="#ffa500" stroke-width="1.1" fill="none" stroke-linejoin="round"/><polygon points="437.50,362.66 439.69,364.25 438.85,366.82 436.15,366.82 435.31,364.25" fill="#ffa500" stroke="#ffa500" stroke-width="0.8" stroke-linejoin="miter"/><polygon points="469.06,336.19 471.25,337.78 470.41,340.35 467.71,340.35 466.87,337.78" fill="#ffa500" stroke="#ffa500" stroke-width="0.8" stroke-linejoin="miter"/><polygon points="500.62,318.01 502.81,319.60 501.97,322.17 499.27,322.17 498.43,319.60" fill="#ffa500" stroke="#ffa500" stroke-width="0.8" stroke-linejoin="miter"/><polygon points="532.18,328.58 534.37,330.17 533.53,332.74 530.83,332.74 529.99,330.17" fill="#ffa500" stroke="#ffa500" stroke-width="0.8" stroke-linejoin="miter"/><polygon points="563.74,315.14 565.93,316.73 565.09,319.30 562.39,319.30 561.55,316.73" fill="#ffa500" stroke="#ffa500" stroke-width="0.8" stroke-linejoin="miter"/><polygon points="595.30,296.57 597.49,298.16 596.65,300.73 593.95,300.73 593.11,298.16" fill="#ffa500" stroke="#ffa500" stroke-width="0.8" stroke-linejoin="miter"/><polygon points="626.86,286.20 629.05,287.79 628.21,290.36 625.51,290.36 624.67,287.79" fill="#ffa500" stroke="#ffa500" stroke-width="0.8" stroke-linejoin="miter"/><polygon points="658.42,312.58 660.61,314.16 659.77,316.74 657.07,316.74 656.23,314.16" fill="#ffa500" stroke="#ffa500" stroke-width="0.8" stroke-linejoin="miter"/><polygon points="689.98,306.65 692.17,308.24 691.33,310.81 688.63,310.81 687.79,308.24" fill="#ffa500" stroke="#ffa500" stroke-width="0.8" stroke-linejoin="miter"/><polygon points="721.54,315.34 723.73,316.93 722.89,319.50 720.19,319.50 719.35,316.93" fill="#ffa500" stroke="#ffa500" stroke-width="0.8" stroke-linejoin="miter"/><polyline points="437.50,318.23 469.06,302.82 500.62,275.66 532.18,288.40 563.74,278.13 595.30,281.98 626.86,281.88 658.42,280.99 689.98,284.35 721.54,281.98" stroke="#008000" stroke-width="1.1" fill="none" stroke-linejoin="round"/><circle cx="437.50" cy="318.23" r="2.30" fill="#008000" stroke="#008000" stroke-width="0.8" stroke-linejoin="miter"/><circle cx="469.06" cy="302.82" r="2.30" fill="#008000" stroke="#008000" stroke-width="0.8" stroke-linejoin="miter"/><circle cx="500.62" cy="275.66" r="2.30" fill="#008000" stroke="#008000" stroke-width="0.8" stroke-linejoin="miter"/><circle cx="532.18" cy="288.40" r="2.30" fill="#008000" stroke="#008000" stroke-width="0.8" stroke-linejoin="miter"/><circle cx="563.74" cy="278.13" r="2.30" fill="#008000" stroke="#008000" stroke-width="0.8" stroke-linejoin="miter"/><circle cx="595.30" cy="281.98" r="2.30" fill="#008000" stroke="#008000" stroke-width="0.8" stroke-linejoin="miter"/><circle cx="626.86" cy="281.88" r="2.30" fill="#008000" stroke="#008000" stroke-width="0.8" stroke-linejoin="miter"/><circle cx="658.42" cy="280.99" r="2.30" fill="#008000" stroke="#008000" stroke-width="0.8" stroke-linejoin="miter"/><circle cx="689.98" cy="284.35" r="2.30" fill="#008000" stroke="#008000" stroke-width="0.8" stroke-linejoin="miter"/><circle cx="721.54" cy="281.98" r="2.30" fill="#008000" stroke="#008000" stroke-width="0.8" stroke-linejoin="miter"/><polyline points="437.50,328.01 469.06,304.31 500.62,281.48 532.18,289.39 563.74,283.07 595.30,279.21 626.86,278.52 658.42,287.81 689.98,288.50 721.54,279.21" stroke="#4682b4" stroke-width="1.1" fill="none" stroke-linejoin="round"/><path d="M434.75 328.01H440.25M437.50 325.26V330.76" stroke="#4682b4" stroke-width="1.0" fill="none"/><path d="M466.31 304.31H471.81M469.06 301.56V307.06" stroke="#4682b4" stroke-width="1.0" fill="none"/><path d="M497.87 281.48H503.37M500.62 278.73V284.23" stroke="#4682b4" stroke-width="1.0" fill="none"/><path d="M529.43 289.39H534.93M532.18 286.64V292.14" stroke="#4682b4" stroke-width="1.0" fill="none"/><path d="M560.99 283.07H566.49M563.74 280.32V285.82" stroke="#4682b4" stroke-width="1.0" fill="none"/><path d="M592.55 279.21H598.05M595.30 276.46V281.96" stroke="#4682b4" stroke-width="1.0" fill="none"/><path d="M624.11 278.52H629.61M626.86 275.77V281.27" stroke="#4682b4" stroke-width="1.0" fill="none"/><path d="M655.67 287.81H661.17M658.42 285.06V290.56" stroke="#4682b4" stroke-width="1.0" fill="none"/><path d="M687.23 288.50H692.73M689.98 285.75V291.25" stroke="#4682b4" stroke-width="1.0" fill="none"/><path d="M718.79 279.21H724.29M721.54 276.46V281.96" stroke="#4682b4" stroke-width="1.0" fill="none"/><polyline points="437.50,412.78 469.06,397.07 500.62,377.21 532.18,371.58 563.74,370.59 595.30,359.92 626.86,364.96 658.42,372.27 689.98,377.01 721.54,365.46" stroke="#ff0000" stroke-width="1.1" fill="none" stroke-linejoin="round"/><polygon points="435.25,410.53 435.25,415.03 439.75,412.78" fill="#ff0000" stroke="#ff0000" stroke-width="0.8" stroke-linejoin="miter"/><polygon points="466.81,394.82 466.81,399.32 471.31,397.07" fill="#ff0000" stroke="#ff0000" stroke-width="0.8" stroke-linejoin="miter"/><polygon points="498.37,374.96 498.37,379.46 502.87,377.21" fill="#ff0000" stroke="#ff0000" stroke-width="0.8" stroke-linejoin="miter"/><polygon points="529.93,369.33 529.93,373.83 534.43,371.58" fill="#ff0000" stroke="#ff0000" stroke-width="0.8" stroke-linejoin="miter"/><polygon points="561.49,368.34 561.49,372.84 565.99,370.59" fill="#ff0000" stroke="#ff0000" stroke-width="0.8" stroke-linejoin="miter"/><polygon points="593.05,357.67 593.05,362.17 597.55,359.92" fill="#ff0000" stroke="#ff0000" stroke-width="0.8" stroke-linejoin="miter"/><polygon points="624.61,362.71 624.61,367.21 629.11,364.96" fill="#ff0000" stroke="#ff0000" stroke-width="0.8" stroke-linejoin="miter"/><polygon points="656.17,370.02 656.17,374.52 660.67,372.27" fill="#ff0000" stroke="#ff0000" stroke-width="0.8" stroke-linejoin="miter"/><polygon points="687.73,374.76 687.73,379.26 692.23,377.01" fill="#ff0000" stroke="#ff0000" stroke-width="0.8" stroke-linejoin="miter"/><polygon points="719.29,363.21 719.29,367.71 723.79,365.46" fill="#ff0000" stroke="#ff0000" stroke-width="0.8" stroke-linejoin="miter"/><polyline points="437.50,341.45 469.06,317.15 500.62,284.55 532.18,299.07 563.74,284.45 595.30,286.72 626.86,282.47 658.42,293.24 689.98,294.92 721.54,286.23" stroke="#bf00bf" stroke-width="1.1" fill="none" stroke-linejoin="round"/><path d="M435.00 338.95L440.00 343.95M435.00 343.95L440.00 338.95" stroke="#bf00bf" stroke-width="1.0" fill="none"/><path d="M466.56 314.65L471.56 319.65M466.56 319.65L471.56 314.65" stroke="#bf00bf" stroke-width="1.0" fill="none"/><path d="M498.12 282.05L503.12 287.05M498.12 287.05L503.12 282.05" stroke="#bf00bf" stroke-width="1.0" fill="none"/><path d="M529.68 296.57L534.68 301.57M529.68 301.57L534.68 296.57" stroke="#bf00bf" stroke-width="1.0" fill="none"/><path d="M561.24 281.95L566.24 286.95M561.24 286.95L566.24 281.95" stroke="#bf00bf" stroke-width="1.0" fill="none"/><path d="M592.80 284.22L597.80 289.22M592.80 289.22L597.80 284.22" stroke="#bf00bf" stroke-width="1.0" fill="none"/><path d="M624.36 279.97L629.36 284.97M624.36 284.97L629.36 279.97" stroke="#bf00bf" stroke-width="1.0" fill="none"/><path d="M655.92 290.74L660.92 295.74M655.92 295.74L660.92 290.74" stroke="#bf00bf" stroke-width="1.0" fill="none"/><path d="M687.48 292.42L692.48 297.42M687.48 297.42L692.48 292.42" stroke="#bf00bf" stroke-width="1.0" fill="none"/><path d="M719.04 283.73L724.04 288.73M719.04 288.73L724.04 283.73" stroke="#bf00bf" stroke-width="1.0" fill="none"/><polyline points="437.50,431.55 469.06,415.94 500.62,390.45 532.18,411.69 563.74,393.61 595.30,380.67 626.86,399.93 658.42,413.17 689.98,403.59 721.54,386.50" stroke="#000000" stroke-width="1.1" fill="none" stroke-linejoin="round"/><polygon points="435.25,433.80 439.75,433.80 437.50,429.30" fill="#000000" stroke="#000000" stroke-width="0.8" stroke-linejoin="miter"/><polygon points="466.81,418.19 471.31,418.19 469.06,413.69" fill="#000000" stroke="#000000" stroke-width="0.8" stroke-linejoin="miter"/><polygon points="498.37,392.70 502.87,392.70 500.62,388.20" fill="#000000" stroke="#000000" stroke-width="0.8" stroke-linejoin="miter"/><polygon points="529.93,413.94 534.43,413.94 532.18,409.44" fill="#000000" stroke="#000000" stroke-width="0.8" stroke-linejoin="miter"/><polygon points="561.49,395.86 565.99,395.86 563.74,391.36" fill="#000000" stroke="#000000" stroke-width="0.8" stroke-linejoin="miter"/><polygon points="593.05,382.92 597.55,382.92 595.30,378.42" fill="#000000" stroke="#000000" stroke-width="0.8" stroke-linejoin="miter"/><polygon points="624.61,402.18 629.11,402.18 626.86,397.68" fill="#000000" stroke="#000000" stroke-width="0.8" stroke-linejoin="miter"/><polygon points="656.17,415.42 660.67,415.42 658.42,410.92" fill="#000000" stroke="#000000" stroke-width="0.8" stroke-linejoin="miter"/><polygon points="687.73,405.84 692.23,405.84 689.98,401.34" fill="#000000" stroke="#000000" stroke-width="0.8" stroke-linejoin="miter"/><polygon points="719.29,388.75 723.79,388.75 721.54,384.25" fill="#000000" stroke="#000000" stroke-width="0.8" stroke-linejoin="miter"/><polyline points="437.50,305.39 469.06,283.76 500.62,278.32 532.18,277.73 563.74,273.88 595.30,257.77 626.86,262.81 658.42,253.82 689.98,262.12 721.54,264.89" stroke="#0000ff" stroke-width="1.1" fill="none" stroke-linejoin="round"/><polygon points="437.50,302.64 438.39,304.17 440.12,304.54 438.94,305.86 439.12,307.62 437.50,306.90 435.88,307.62 436.06,305.86 434.88,304.54 436.61,304.17" fill="#0000ff" stroke="#0000ff" stroke-width="0.8" stroke-linejoin="miter"/><polygon points="469.06,281.01 469.95,282.53 471.68,282.91 470.50,284.22 470.68,285.98 469.06,285.27 467.44,285.98 467.62,284.22 466.44,282.91 468.17,282.53" fill="#0000ff" stroke="#0000ff" stroke-width="0.8" stroke-linejoin="miter"/><polygon points="500.62,275.57 501.51,277.10 503.24,277.47 502.06,278.79 502.24,280.55 500.62,279.84 499.00,280.55 499.18,278.79 498.00,277.47 499.73,277.10" fill="#0000ff" stroke="#0000ff" stroke-width="0.8" stroke-linejoin="miter"/><polygon points="532.18,274.98 533.07,276.51 534.80,276.88 533.62,278.20 533.80,279.96 532.18,279.24 530.56,279.96 530.74,278.20 529.56,276.88 531.29,276.51" fill="#0000ff" stroke="#0000ff" stroke-width="0.8" stroke-linejoin="miter"/><polygon points="563.74,271.13 564.63,272.65 566.36,273.03 565.18,274.35 565.36,276.10 563.74,275.39 562.12,276.10 562.30,274.35 561.12,273.03 562.85,272.65" fill="#0000ff" stroke="#0000ff" stroke-width="0.8" stroke-linejoin="miter"/><polygon points="595.30,255.02 596.19,256.55 597.92,256.93 596.74,258.24 596.92,260.00 595.30,259.29 593.68,260.00 593.86,258.24 592.68,256.93 594.41,256.55" fill="#0000ff" stroke="#0000ff" stroke-width="0.8" stroke-linejoin="miter"/><polygon points="626.86,260.06 627.75,261.59 629.48,261.96 628.30,263.28 628.48,265.04 626.86,264.33 625.24,265.04 625.42,263.28 624.24,261.96 625.97,261.59" fill="#0000ff" stroke="#0000ff" stroke-width="0.8" stroke-linejoin="miter"/><polygon points="658.42,251.07 659.31,252.60 661.04,252.97 659.86,254.29 660.04,256.05 658.42,255.34 656.80,256.05 656.98,254.29 655.80,252.97 657.53,252.60" fill="#0000ff" stroke="#0000ff" stroke-width="0.8" stroke-linejoin="miter"/><polygon points="689.98,259.37 690.87,260.90 692.60,261.27 691.42,262.59 691.60,264.35 689.98,263.63 688.36,264.35 688.54,262.59 687.36,261.27 689.09,260.90" fill="#0000ff" stroke="#0000ff" stroke-width="0.8" stroke-linejoin="miter"/><polygon points="721.54,262.14 722.43,263.66 724.16,264.04 722.98,265.36 723.16,267.11 721.54,266.40 719.92,267.11 720.10,265.36 718.92,264.04 720.65,263.66" fill="#0000ff" stroke="#0000ff" stroke-width="0.8" stroke-linejoin="miter"/><path d="M437.50 476.50v3.5M469.06 476.50v3.5M500.62 476.50v3.5M532.18 476.50v3.5M563.74 476.50v3.5M595.30 476.50v3.5M626.86 476.50v3.5M658.42 476.50v3.5M689.98 476.50v3.5M721.54 476.50v3.5M423.20 476.50h-3.5M423.20 456.74h-3.5M423.20 436.98h-3.5M423.20 417.22h-3.5M423.20 397.46h-3.5M423.20 377.71h-3.5M423.20 357.95h-3.5M423.20 338.19h-3.5M423.20 318.43h-3.5M423.20 298.67h-3.5M423.20 278.92h-3.5M423.20 259.16h-3.5M423.20 239.40h-3.5" stroke="#333" stroke-width="1" fill="none"/><rect x="423.2" y="239.4" width="312.40" height="237.10" fill="none" stroke="#333" stroke-width="1.2"/><text x="437.50" y="490" class="it" text-anchor="middle">0</text><text x="469.06" y="490" class="it" text-anchor="middle">2</text><text x="500.62" y="490" class="it" text-anchor="middle">4</text><text x="532.18" y="490" class="it" text-anchor="middle">6</text><text x="563.74" y="490" class="it" text-anchor="middle">8</text><text x="595.30" y="490" class="it" text-anchor="middle">10</text><text x="626.86" y="490" class="it" text-anchor="middle">12</text><text x="658.42" y="490" class="it" text-anchor="middle">14</text><text x="689.98" y="490" class="it" text-anchor="middle">16</text><text x="721.54" y="490" class="it" text-anchor="middle">18</text><text x="416.4" y="480.10" class="it" text-anchor="end">0.72</text><text x="416.4" y="460.34" class="it" text-anchor="end">0.74</text><text x="416.4" y="440.58" class="it" text-anchor="end">0.76</text><text x="416.4" y="420.82" class="it" text-anchor="end">0.78</text><text x="416.4" y="401.06" class="it" text-anchor="end">0.80</text><text x="416.4" y="381.31" class="it" text-anchor="end">0.82</text><text x="416.4" y="361.55" class="it" text-anchor="end">0.84</text><text x="416.4" y="341.79" class="it" text-anchor="end">0.86</text><text x="416.4" y="322.03" class="it" text-anchor="end">0.88</text><text x="416.4" y="302.27" class="it" text-anchor="end">0.90</text><text x="416.4" y="282.52" class="it" text-anchor="end">0.92</text><text x="416.4" y="262.76" class="it" text-anchor="end">0.94</text><text x="416.4" y="243.00" class="it" text-anchor="end">0.96</text><text x="579.3" y="504.5" class="il" text-anchor="middle">SNR(dB)</text><text transform="translate(392,357.8) rotate(-90) scale(1.04,1)" class="il" text-anchor="middle">Classification Accuracy</text><path d="M117.35 511.95v6.5M148.97 511.95v6.5M180.58 511.95v6.5M212.20 511.95v6.5M243.81 511.95v6.5M275.43 511.95v6.5M307.05 511.95v6.5M338.66 511.95v6.5M370.28 511.95v6.5M401.89 511.95v6.5M433.51 511.95v6.5M465.13 511.95v6.5M496.74 511.95v6.5M528.36 511.95v6.5M559.97 511.95v6.5M591.59 511.95v6.5M623.21 511.95v6.5M654.82 511.95v6.5M686.44 511.95v6.5M718.05 511.95v6.5M87.30 511.94h-6.5M87.30 485.54h-6.5M87.30 459.13h-6.5M87.30 432.73h-6.5M87.30 406.33h-6.5M87.30 379.92h-6.5M87.30 353.51h-6.5M87.30 327.11h-6.5M87.30 300.71h-6.5M87.30 274.30h-6.5M87.30 247.89h-6.5M87.30 221.49h-6.5M87.30 195.08h-6.5M87.30 168.68h-6.5M87.30 142.27h-6.5M87.30 115.87h-6.5M87.30 89.46h-6.5M87.30 63.06h-6.5M87.30 36.65h-6.5M87.30 10.25h-6.5" stroke="#000" stroke-width="1.8" fill="none"/><rect x="87.3" y="9.95" width="661.30" height="502.00" fill="none" stroke="#000" stroke-width="1.8"/><text transform="translate(117.35,540.7) scale(0.95,1.0)" class="mt" text-anchor="middle">-20</text><text transform="translate(148.97,540.7) scale(0.95,1.0)" class="mt" text-anchor="middle">-18</text><text transform="translate(180.58,540.7) scale(0.95,1.0)" class="mt" text-anchor="middle">-16</text><text transform="translate(212.20,540.7) scale(0.95,1.0)" class="mt" text-anchor="middle">-14</text><text transform="translate(243.81,540.7) scale(0.95,1.0)" class="mt" text-anchor="middle">-12</text><text transform="translate(275.43,540.7) scale(0.95,1.0)" class="mt" text-anchor="middle">-10</text><text transform="translate(307.05,540.7) scale(0.95,1.0)" class="mt" text-anchor="middle">-8</text><text transform="translate(338.66,540.7) scale(0.95,1.0)" class="mt" text-anchor="middle">-6</text><text transform="translate(370.28,540.7) scale(0.95,1.0)" class="mt" text-anchor="middle">-4</text><text transform="translate(401.89,540.7) scale(0.95,1.0)" class="mt" text-anchor="middle">-2</text><text transform="translate(433.51,540.7) scale(0.95,1.0)" class="mt" text-anchor="middle">0</text><text transform="translate(465.13,540.7) scale(0.95,1.0)" class="mt" text-anchor="middle">2</text><text transform="translate(496.74,540.7) scale(0.95,1.0)" class="mt" text-anchor="middle">4</text><text transform="translate(528.36,540.7) scale(0.95,1.0)" class="mt" text-anchor="middle">6</text><text transform="translate(559.97,540.7) scale(0.95,1.0)" class="mt" text-anchor="middle">8</text><text transform="translate(591.59,540.7) scale(0.95,1.0)" class="mt" text-anchor="middle">10</text><text transform="translate(623.21,540.7) scale(0.95,1.0)" class="mt" text-anchor="middle">12</text><text transform="translate(654.82,540.7) scale(0.95,1.0)" class="mt" text-anchor="middle">14</text><text transform="translate(686.44,540.7) scale(0.95,1.0)" class="mt" text-anchor="middle">16</text><text transform="translate(718.05,540.7) scale(0.95,1.0)" class="mt" text-anchor="middle">18</text><text transform="translate(75,519.25) scale(0.95,1.0)" class="mt" text-anchor="end">0.05</text><text transform="translate(75,492.84) scale(0.95,1.0)" class="mt" text-anchor="end">0.10</text><text transform="translate(75,466.44) scale(0.95,1.0)" class="mt" text-anchor="end">0.15</text><text transform="translate(75,440.03) scale(0.95,1.0)" class="mt" text-anchor="end">0.20</text><text transform="translate(75,413.63) scale(0.95,1.0)" class="mt" text-anchor="end">0.25</text><text transform="translate(75,387.22) scale(0.95,1.0)" class="mt" text-anchor="end">0.30</text><text transform="translate(75,360.81) scale(0.95,1.0)" class="mt" text-anchor="end">0.35</text><text transform="translate(75,334.41) scale(0.95,1.0)" class="mt" text-anchor="end">0.40</text><text transform="translate(75,308.01) scale(0.95,1.0)" class="mt" text-anchor="end">0.45</text><text transform="translate(75,281.60) scale(0.95,1.0)" class="mt" text-anchor="end">0.50</text><text transform="translate(75,255.19) scale(0.95,1.0)" class="mt" text-anchor="end">0.55</text><text transform="translate(75,228.79) scale(0.95,1.0)" class="mt" text-anchor="end">0.60</text><text transform="translate(75,202.38) scale(0.95,1.0)" class="mt" text-anchor="end">0.65</text><text transform="translate(75,175.98) scale(0.95,1.0)" class="mt" text-anchor="end">0.70</text><text transform="translate(75,149.57) scale(0.95,1.0)" class="mt" text-anchor="end">0.75</text><text transform="translate(75,123.17) scale(0.95,1.0)" class="mt" text-anchor="end">0.80</text><text transform="translate(75,96.76) scale(0.95,1.0)" class="mt" text-anchor="end">0.85</text><text transform="translate(75,70.36) scale(0.95,1.0)" class="mt" text-anchor="end">0.90</text><text transform="translate(75,43.95) scale(0.95,1.0)" class="mt" text-anchor="end">0.95</text><text transform="translate(75,17.55) scale(0.95,1.0)" class="mt" text-anchor="end">1.00</text><text x="416.5" y="571.6" class="mx" text-anchor="middle">SNR(dB)</text><text transform="translate(22,261) rotate(-90) scale(1.02,1)" class="ml" text-anchor="middle">Classification Accuracy</text></svg>
</body></html>
